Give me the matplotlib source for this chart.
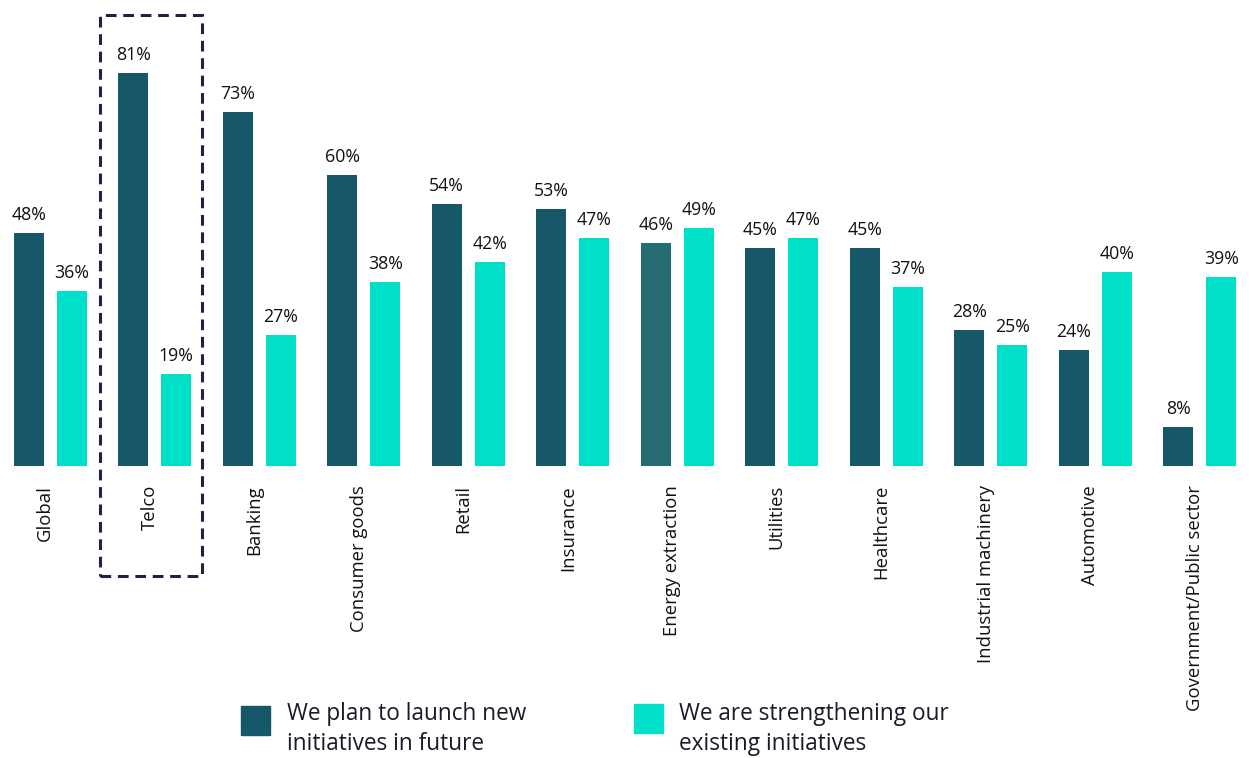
import matplotlib
matplotlib.use("Agg")
import matplotlib.pyplot as plt
from matplotlib.patches import Rectangle
import numpy as np

categories = ["Global", "Telco", "Banking", "Consumer goods", "Retail", "Insurance",
              "Energy extraction", "Utilities", "Healthcare", "Industrial machinery",
              "Automotive", "Government/Public sector"]
new_initiatives = [48, 81, 73, 60, 54, 53, 46, 45, 45, 28, 24, 8]
strengthening = [36, 19, 27, 38, 42, 47, 49, 47, 37, 25, 40, 39]
legend_labels = ["We plan to launch new\ninitiatives in future",
                 "We are strengthening our\nexisting initiatives"]

DARK = "#16586A"
DARK_ALT = "#246C72"
TEAL = "#00E0C9"
BOX = "#2E1A47"
TXT = "#111111"

plt.rcParams['font.family'] = ['Open Sans', 'DejaVu Sans']

W, H = 1249, 758
fig = plt.figure(figsize=(W / 100, H / 100), dpi=100)
base_px = 466
ax = fig.add_axes([0, (H - base_px) / H, 1, base_px / H])
px_per_unit = 4.85
ax.set_ylim(0, base_px / px_per_unit)
step = 104.5
c0 = 50.25
ax.set_xlim(-c0 / step, (W - c0) / step)
ax.axis("off")

x = np.arange(len(categories))
off = 21.5 / step
bw = 30 / step
dark_colors = [DARK_ALT if c == "Energy extraction" else DARK for c in categories]
ax.bar(x - off, new_initiatives, width=bw, color=dark_colors)
ax.bar(x + off, strengthening, width=bw, color=TEAL)

for xi, v in zip(x, new_initiatives):
    ax.annotate(f"{v}%", (xi - off, v), xytext=(0, 9), textcoords="offset pixels",
                ha="center", va="bottom", fontsize=12.8, color=TXT)
for xi, v in zip(x, strengthening):
    ax.annotate(f"{v}%", (xi + off, v), xytext=(0, 9), textcoords="offset pixels",
                ha="center", va="bottom", fontsize=12.8, color=TXT)

# category labels
for xi, c in zip(x, categories):
    ax.annotate(c, (xi, 0), xytext=(-5, -19), textcoords="offset pixels",
                rotation=90, ha="center", va="top", fontsize=13.3, color=TXT,
                annotation_clip=False)

# dashed highlight box around Telco (figure pixel coordinates)
rect = Rectangle((100 / W, 1 - 576 / H), 102 / W, 561 / H, transform=fig.transFigure,
                 fill=False, edgecolor=BOX, linewidth=2.2, linestyle=(0, (3.5, 2.2)))
fig.patches.append(rect)

# legend
for (sx, sy, col, tx, lab) in [(241, 706, DARK, 287, legend_labels[0]),
                                (634, 704, TEAL, 679, legend_labels[1])]:
    fig.patches.append(Rectangle((sx / W, 1 - (sy + 29) / H), 29 / W, 29 / H,
                                 transform=fig.transFigure, color=col))
    fig.text(tx / W, 1 - 729 / H, lab, fontsize=16.3, va="center", ha="left",
             color="#1a1a2a", linespacing=1.35)

fig.savefig("out.png", dpi=100)
